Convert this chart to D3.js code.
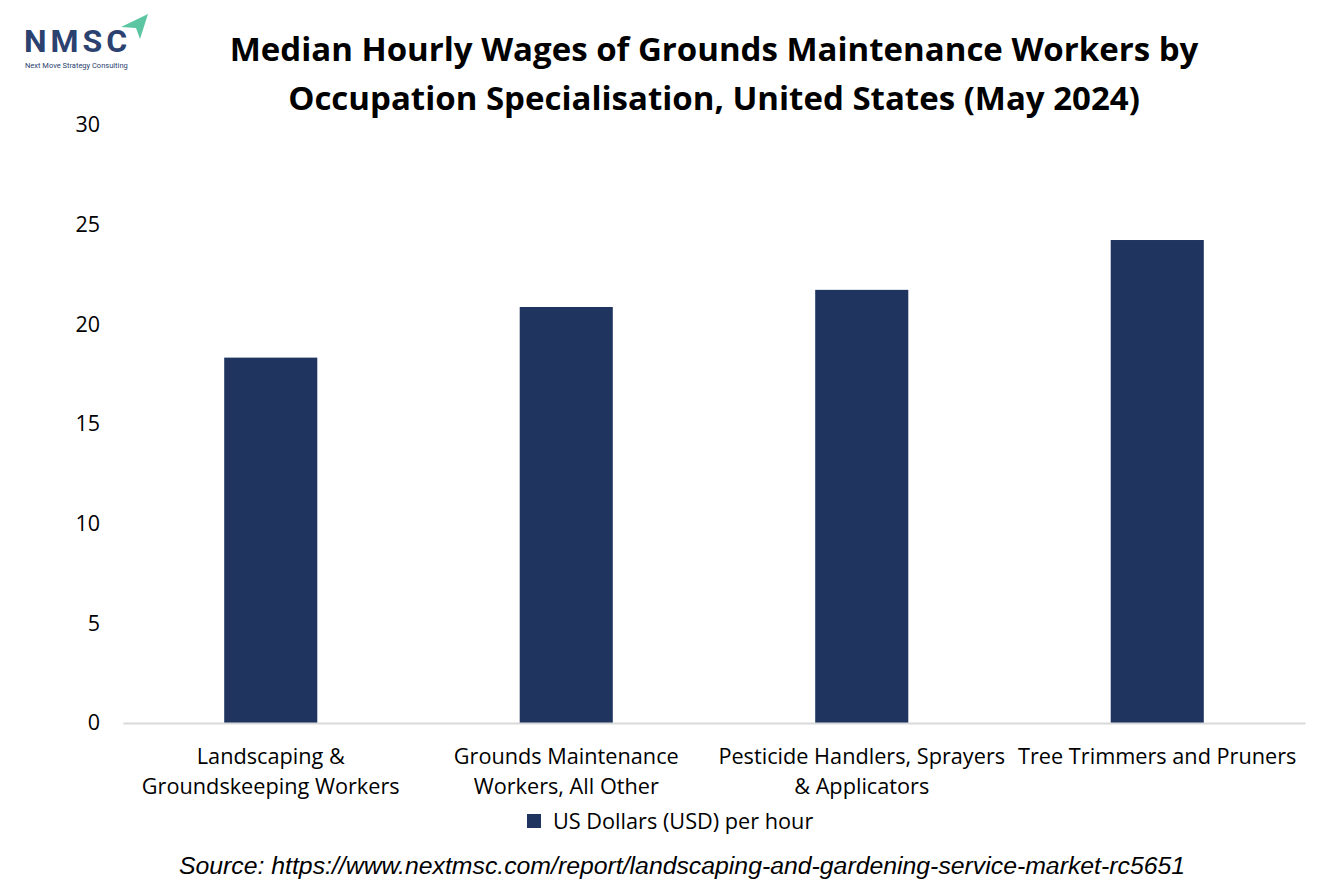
<!DOCTYPE html>
<html lang="en">
<head>
  <meta charset="UTF-8">
  <title>Median Hourly Wages of Grounds Maintenance Workers</title>
  <script src="https://d3js.org/d3.v7.min.js"></script>
  <style>
    body {
      margin: 0;
      background: #fff;
    }
    svg text {
      font-family: "Open Sans", sans-serif;
      fill: #000;
    }
  </style>
</head>
<body>
  <svg width="1334" height="889"></svg>

  <script>
    // data
    const categories = [
      "Landscaping & Groundskeeping Workers",
      "Grounds Maintenance Workers, All Other",
      "Pesticide Handlers, Sprayers & Applicators",
      "Tree Trimmers and Pruners"
    ];
    const labelLines = [
      ["Landscaping &", "Groundskeeping Workers"],
      ["Grounds Maintenance", "Workers, All Other"],
      ["Pesticide Handlers, Sprayers", "& Applicators"],
      ["Tree Trimmers and Pruners"]
    ];
    const wages = [18.33, 20.87, 21.73, 24.23];
    const yTicks = [0, 5, 10, 15, 20, 25, 30];
    const seriesName = "US Dollars (USD) per hour";

    const navy = "#1f3560";
    const svg = d3.select("svg");
    const margin = { left: 123, right: 29, top: 125, bottom: 166 };
    const width = 1334;
    const height = 889;

    // title
    const title = svg.append("text")
      .attr("text-anchor", "middle")
      .style("font-weight", "bold")
      .style("font-size", "33px");
    title.append("tspan").attr("x", 714).attr("y", 61)
      .text("Median Hourly Wages of Grounds Maintenance Workers by");
    title.append("tspan").attr("x", 714).attr("y", 110)
      .text("Occupation Specialisation, United States (May 2024)");

    // logo
    const logo = svg.append("g");
    logo.append("text")
      .attr("x", 24).attr("y", 52)
      .style("font-family", "Roboto, sans-serif")
      .style("font-weight", "bold")
      .style("font-size", "32px")
      .style("letter-spacing", "4px")
      .style("fill", "#2b4170")
      .text("NMSC");
    logo.append("path")
      .attr("d", "M121,27 L148,14 L140,39 L136,28 Z")
      .attr("fill", "#5cc6a2");
    logo.append("text")
      .attr("x", 25).attr("y", 68)
      .style("font-family", "Roboto, sans-serif")
      .style("font-size", "7.5px")
      .style("fill", "#2b4170")
      .text("Next Move Strategy Consulting");

    const x = d3.scaleBand()
      .domain(categories)
      .range([margin.left, width - margin.right])
      .paddingInner(0.685)
      .paddingOuter(0.3425);

    const y = d3.scaleLinear()
      .domain([0, 30])
      .range([height - margin.bottom, margin.top]);

    // y axis labels (no line, no ticks)
    const yAxis = svg.append("g")
      .attr("transform", `translate(${margin.left},0)`)
      .call(d3.axisLeft(y).tickValues(yTicks).tickSize(0).tickPadding(23));
    yAxis.select(".domain").remove();
    yAxis.selectAll("text")
      .style("font-family", "'Open Sans', sans-serif")
      .style("font-size", "21.5px")
      .attr("fill", "#000");

    // bars
    svg.append("g")
      .selectAll("rect")
      .data(wages)
      .join("rect")
      .attr("x", (d, i) => x(categories[i]))
      .attr("y", d => y(d))
      .attr("width", x.bandwidth())
      .attr("height", d => y(0) - y(d))
      .attr("fill", navy);

    // baseline
    const xAxis = svg.append("g")
      .attr("transform", `translate(0,${y(0)})`)
      .call(d3.axisBottom(x).tickSize(0).tickFormat(""));
    xAxis.select(".domain")
      .attr("stroke", "#d9d9d9")
      .attr("stroke-width", 2);

    // category labels
    const labels = svg.append("g")
      .selectAll("text")
      .data(categories)
      .join("text")
      .attr("text-anchor", "middle")
      .style("font-size", "21.7px");
    labels.each(function (d, i) {
      const cx = x(d) + x.bandwidth() / 2;
      d3.select(this).selectAll("tspan")
        .data(labelLines[i])
        .join("tspan")
        .attr("x", cx)
        .attr("y", (t, j) => 764 + j * 30)
        .text(t => t);
    });

    // legend
    const legend = svg.append("g");
    legend.append("rect")
      .attr("x", 527).attr("y", 814)
      .attr("width", 14).attr("height", 14)
      .attr("fill", navy);
    legend.append("text")
      .attr("x", 553).attr("y", 829)
      .style("font-size", "21.7px")
      .text(seriesName);

    // source
    svg.append("text")
      .attr("x", 682).attr("y", 874)
      .attr("text-anchor", "middle")
      .style("font-family", "'Liberation Sans', Arial, sans-serif")
      .style("font-style", "italic")
      .style("font-size", "24.8px")
      .text("Source: https://www.nextmsc.com/report/landscaping-and-gardening-service-market-rc5651");
  </script>
</body>
</html>
